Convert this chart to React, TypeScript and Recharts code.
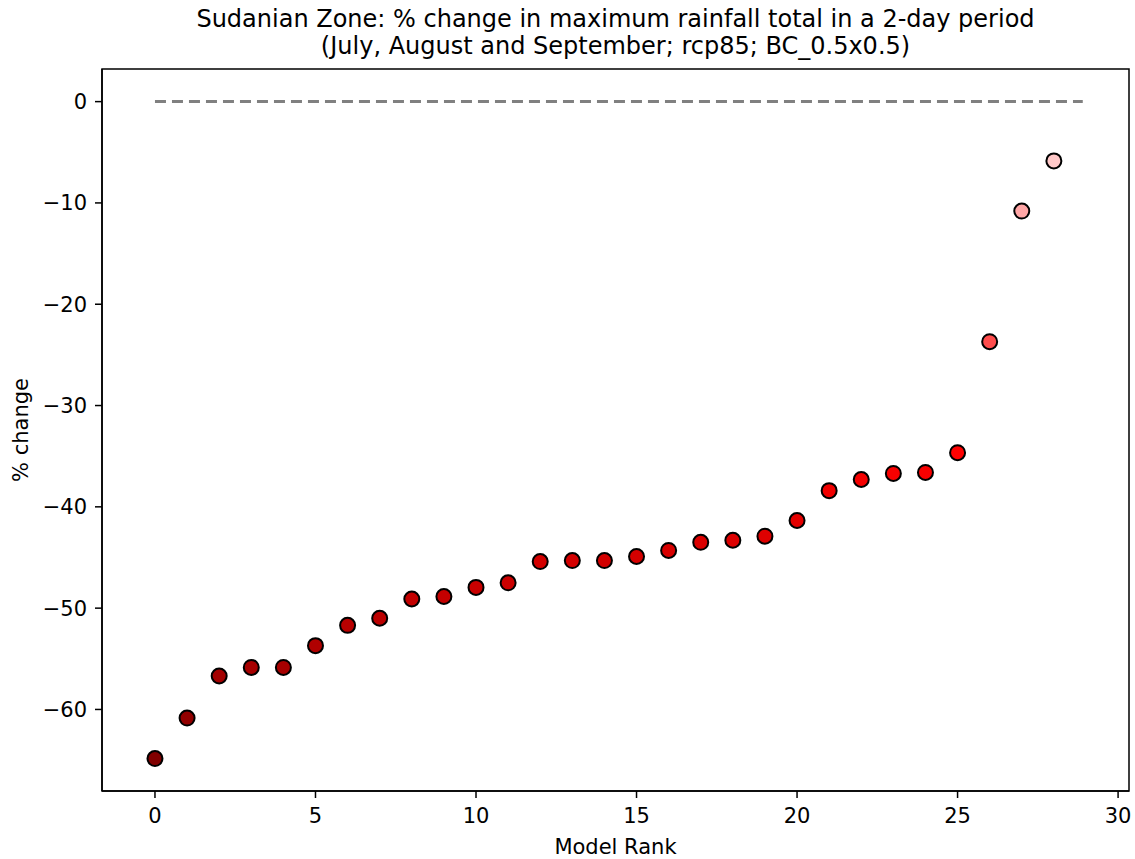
import React from "react";
import {
  ScatterChart,
  Scatter,
  XAxis,
  YAxis,
  ReferenceLine,
  ReferenceArea,
  Label,
} from "recharts";

const modelRank = [
  0, 1, 2, 3, 4, 5, 6, 7, 8, 9, 10, 11, 12, 13, 14, 15, 16, 17, 18, 19, 20,
  21, 22, 23, 24, 25, 26, 27, 28,
];
const pctChange = [
  -64.85, -60.85, -56.7, -55.85, -55.85, -53.7, -51.7, -51.0, -49.1, -48.85,
  -47.95, -47.5, -45.4, -45.3, -45.3, -44.9, -44.3, -43.5, -43.3, -42.9,
  -41.35, -38.4, -37.3, -36.7, -36.6, -34.65, -23.7, -10.8, -5.85,
];
const xTicks = [0, 5, 10, 15, 20, 25, 30];
const yTicks = [-60, -50, -40, -30, -20, -10, 0];
const zeroLineEnd = 28.9;

const X_DOMAIN: [number, number] = [-1.65, 30.34];
const Y_DOMAIN: [number, number] = [-68.05, 3.22];

const data = modelRank.map((r, i) => ({ x: r, y: pctChange[i] }));

const FONT = "DejaVu Sans";

function colorFor(v: number): string {
  // dark red -> red -> white colormap
  if (v <= -35) {
    const t = Math.max(0, Math.min(1, (v + 65) / 30));
    const r = Math.round(128 + t * 127);
    return `rgb(${r},0,0)`;
  }
  const t = Math.max(0, Math.min(1, (v + 35) / 35));
  const gb = Math.round(t * 240);
  return `rgb(255,${gb},${gb})`;
}

const fmt = (v: number) => String(v).replace("-", "\u2212");

const Dot = (props: any) => {
  const { cx, cy, payload } = props;
  if (cx == null || cy == null) return null;
  return (
    <circle
      cx={cx}
      cy={cy}
      r={7.5}
      fill={colorFor(payload.y)}
      stroke="#000"
      strokeWidth={2}
    />
  );
};

export default function App() {
  return (
    <div
      style={{
        position: "absolute",
        left: 0,
        top: 0,
        width: 1135,
        height: 859,
        background: "#fff",
        fontFamily: FONT,
      }}
    >
      <div
        style={{
          position: "absolute",
          left: 102,
          width: 1027,
          top: 6,
          textAlign: "center",
          fontSize: 24,
          lineHeight: "27px",
          color: "#000",
          whiteSpace: "nowrap",
        }}
      >
        Sudanian Zone: % change in maximum rainfall total in a 2-day period
        <br />
        (July, August and September; rcp85; BC_0.5x0.5)
      </div>
      <ScatterChart
        width={1135}
        height={859}
        margin={{ top: 69, right: 6, bottom: 0, left: 0 }}
        style={{ fontFamily: FONT }}
      >
        <XAxis
          type="number"
          dataKey="x"
          domain={X_DOMAIN}
          ticks={xTicks}
          allowDataOverflow
          height={68}
          tickSize={7}
          tickMargin={10}
          tickFormatter={fmt}
          tick={{ fill: "#000", fontSize: 21 }}
          axisLine={{ stroke: "#000", strokeWidth: 1.5 }}
          tickLine={{ stroke: "#000", strokeWidth: 1.5 }}
        >
          <Label
            value="Model Rank"
            position="insideBottom"
            offset={5}
            style={{ fill: "#000", fontSize: 21 }}
          />
        </XAxis>
        <YAxis
          type="number"
          dataKey="y"
          domain={Y_DOMAIN}
          ticks={yTicks}
          allowDataOverflow
          width={102}
          tickSize={7}
          tickMargin={8}
          tickFormatter={fmt}
          tick={{ fill: "#000", fontSize: 21 }}
          axisLine={{ stroke: "#000", strokeWidth: 1.5 }}
          tickLine={{ stroke: "#000", strokeWidth: 1.5 }}
        >
          <Label
            value="% change"
            angle={-90}
            position="insideLeft"
            offset={21}
            style={{ fill: "#000", fontSize: 21, textAnchor: "middle" }}
          />
        </YAxis>
        <ReferenceArea
          x1={X_DOMAIN[0]}
          x2={X_DOMAIN[1]}
          y1={Y_DOMAIN[0]}
          y2={Y_DOMAIN[1]}
          fill="none"
          fillOpacity={0}
          stroke="#000"
          strokeWidth={1.5}
          ifOverflow="visible"
        />
        <ReferenceLine
          segment={[
            { x: 0, y: 0 },
            { x: zeroLineEnd, y: 0 },
          ]}
          stroke="#808080"
          strokeWidth={3}
          strokeDasharray="11 6"
        />
        <Scatter data={data} shape={Dot} isAnimationActive={false} />
      </ScatterChart>
    </div>
  );
}
